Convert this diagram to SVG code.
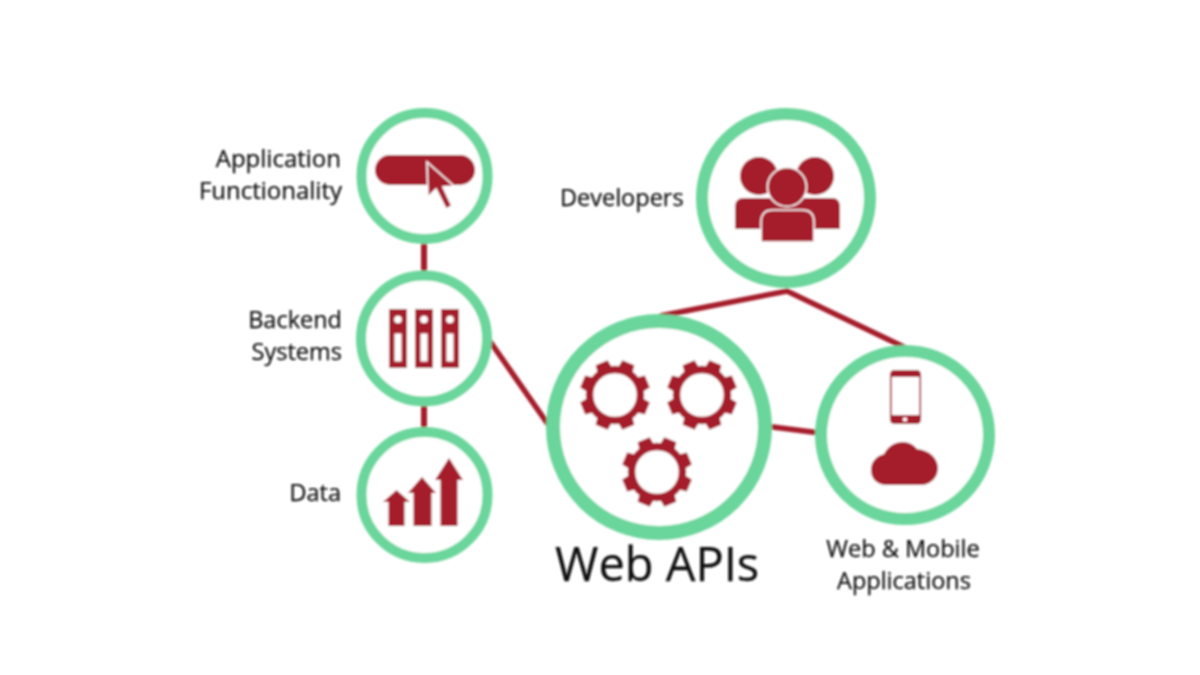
<svg xmlns="http://www.w3.org/2000/svg" width="1200" height="675" viewBox="0 0 1200 675">
<style>
.ring{fill:#fff;stroke:#6bd69b}
.r1{stroke-width:10}
.r2{stroke-width:12}
.r3{stroke-width:14}
.ic{fill:#a51e2b}
.cut{fill:#fff}
.out{stroke:#fff;stroke-width:1.600}
.link{stroke:#a51e2b;stroke-width:5.500;fill:none}
text{font-family:"Open Sans","Noto Sans","Liberation Sans",sans-serif;fill:#111;stroke:#111;stroke-width:.25;font-size:23.5px}
.end{text-anchor:end}
.mid{text-anchor:middle}
</style>
<defs>
<filter id="soft" x="-5%" y="-5%" width="110%" height="110%"><feGaussianBlur stdDeviation="0.8"/></filter>
<polygon id="tooth" points="25,-8 35,-6.500 35,6.500 25,8"/>
<g id="gear" fill="#a51e2b">
<circle r="25.500" fill="none" stroke="#a51e2b" stroke-width="7.500"/>
<use href="#tooth" transform="rotate(22.5)"/>
<use href="#tooth" transform="rotate(67.5)"/>
<use href="#tooth" transform="rotate(112.5)"/>
<use href="#tooth" transform="rotate(157.5)"/>
<use href="#tooth" transform="rotate(202.5)"/>
<use href="#tooth" transform="rotate(247.5)"/>
<use href="#tooth" transform="rotate(292.5)"/>
<use href="#tooth" transform="rotate(337.5)"/>
</g>
</defs>
<rect width="1200" height="675" fill="#fff"/>
<g filter="url(#soft)">
<g id="connectors">
<line class="link" x1="424" y1="240" x2="424" y2="275" style="stroke-width:6"/>
<line class="link" x1="424" y1="402" x2="424" y2="432" style="stroke-width:6"/>
<line class="link" x1="489" y1="340" x2="552" y2="430"/>
<polyline class="link" points="660,316 787,291 906,348"/>
<line class="link" x1="765" y1="426" x2="820" y2="433"/>
</g>
<g id="application-functionality">
<circle class="ring r1" cx="424.500" cy="176" r="63"/>
<rect class="ic" x="375" y="155" width="100" height="30" rx="15"/>
<polygon class="ic out" points="427,162 428,197 436,189 446,209 452,206 443,187 454,186"/>
<text class="end" x="341" y="167" style="font-size:24px">Application</text>
<text class="end" x="342" y="199" style="font-size:24px">Functionality</text>
</g>
<g id="backend-systems">
<circle class="ring r1" cx="424" cy="338.500" r="63"/>
<rect class="ic" x="389" y="309" width="18" height="59"/>
<rect class="ic" x="415" y="309" width="18" height="59"/>
<rect class="ic" x="441" y="309" width="18" height="59"/>
<circle class="cut" cx="398" cy="319.500" r="3.800"/>
<circle class="cut" cx="424" cy="319.500" r="3.800"/>
<circle class="cut" cx="450" cy="319.500" r="3.800"/>
<rect class="cut" x="394.500" y="333.500" width="7" height="28"/>
<rect class="cut" x="420.500" y="333.500" width="7" height="28"/>
<rect class="cut" x="446.500" y="333.500" width="7" height="28"/>
<text class="end" x="342" y="328">Backend</text>
<text class="end" x="342" y="360">Systems</text>
</g>
<g id="data">
<circle class="ring r1" cx="424.500" cy="495" r="63"/>
<polygon class="ic" points="396.500,490 410,502 404.500,502 404.500,526 388.500,526 388.500,502 383,502"/>
<polygon class="ic" points="422,477 436,493 431.500,493 431.500,526 413.500,526 413.500,493 408,493"/>
<polygon class="ic" points="449,458 463,480 457.500,480 457.500,526 440.500,526 440.500,480 435,480"/>
<text class="end" x="341" y="501">Data</text>
</g>
<g id="developers">
<circle class="ring r2" cx="786" cy="198" r="84"/>
<circle class="ic" cx="759" cy="176" r="19"/>
<circle class="ic" cx="815" cy="176" r="19"/>
<path class="ic" d="M735 229V207q0-9 9-9H832q8 0 8 9V229Z"/>
<circle class="ic out" cx="787" cy="187" r="19.500"/>
<path class="ic out" d="M761 242V222q0-12 12-12H802q12 0 12 12V242Z"/>
<text x="560" y="206">Developers</text>
</g>
<g id="web-apis">
<circle class="ring r3" cx="659" cy="427" r="106"/>
<use href="#gear" transform="translate(615 395)"/>
<use href="#gear" transform="translate(702 395)"/>
<use href="#gear" transform="translate(657 472)"/>
<text x="555" y="581" style="font-size:47px">Web APIs</text>
</g>
<g id="web-mobile-applications">
<circle class="ring r2" cx="905" cy="435" r="84"/>
<rect x="890.800" y="370.800" width="29.400" height="52.400" rx="4" fill="none" stroke="#a51e2b" stroke-width="1.800"/>
<path class="ic" d="M890 375q0-5 5-5H916q5 0 5 5v2H890Z"/>
<path class="ic" d="M890 415H921v4q0 5-5 5H895q-5 0-5-5Z"/>
<circle class="cut" cx="905" cy="419.500" r="2.200"/>
<path class="ic" d="M887 485C876 485 871 478 871 470C871 461 877 456 884 454C888 446 895 442 903 442C909 442 914 445 917 449C930 450 938 459 938 468C938 478 930 485 921 485Z"/>
<text class="mid" x="903" y="557">Web &amp; Mobile</text>
<text class="mid" x="904" y="589">Applications</text>
</g>
</g>
</svg>
